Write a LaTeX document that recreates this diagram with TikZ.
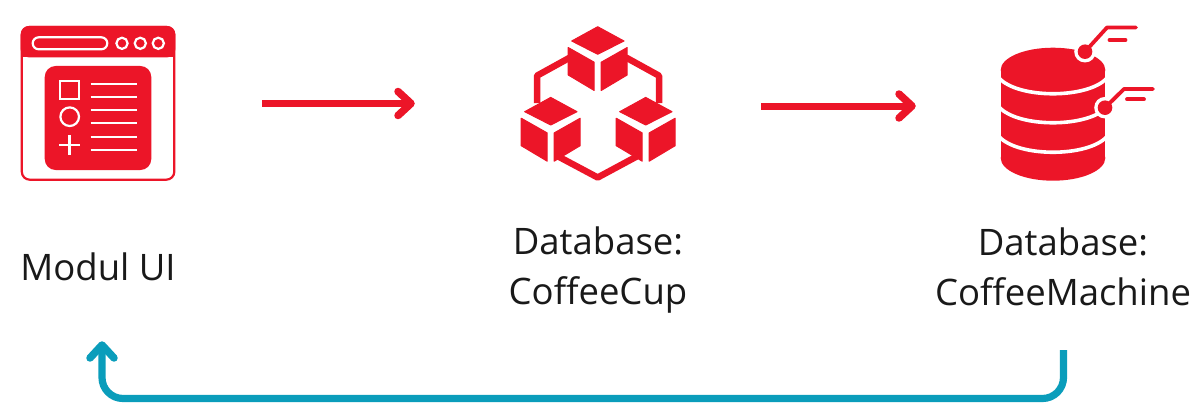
\documentclass[tikz,border=0pt]{standalone}
\usepackage{fontspec}
\setmainfont{Open Sans}
\definecolor{cred}{HTML}{EC1528}
\definecolor{cteal}{HTML}{0A9DBB}
\tikzset{
  x=1pt,y=-1pt,
  redflow/.style={draw=cred,line width=7pt},
  tealflow/.style={draw=cteal,line width=7.2pt,rounded corners=21pt},
  redhead/.style={draw=cred,line width=7.5pt,line cap=round,line join=round},
  tealhead/.style={draw=cteal,line width=7.5pt,line cap=round,line join=round},
  lbl/.style={font=\fontsize{36.5}{50}\selectfont,align=center,text=black!90,inner sep=0pt},
  iconbox/.style={inner sep=0pt,minimum size=155pt},
  wl/.style={draw=white,line width=2.2pt},
  link/.style={draw=cred,line width=6.5pt,line join=round},
  lead/.style={draw=cred,line width=3.8pt,line cap=round,line join=round},
  sep/.style={draw=white,line width=3.6pt},
  rf/.style={fill=cred,draw=cred,line width=1pt,line join=round},
}
\begin{document}
\begin{tikzpicture}
\useasboundingbox (0,0) rectangle (1192,420);
\node[iconbox] (ui) at (98,103) {};
\node[iconbox] (cup) at (598,103) {};
\node[iconbox] (db) at (1076,103) {};
\node[lbl] (uilabel) at (98,267) {Modul UI};
\node[lbl] (cuplabel) at (598,270) {Database:\\CoffeeCup};
\node[lbl] (dblabel) at (1063,266.5) {Database:\\CoffeeMachine};
% UI icon
\draw[cred,line width=2.2pt,rounded corners=8pt] (21.8,27) rectangle (174.3,179.7);
\fill[cred,rounded corners=8pt] (20.7,26) -- (175.3,26) -- (175.3,57.3) -- (20.7,57.3) -- cycle;
\fill[cred] (20.7,45) rectangle (175.3,57.3);
\draw[wl,rounded corners=6pt] (32.7,37.3) rectangle (107.3,49.3);
\foreach \c in {122,140.3,158.3}\draw[wl] (\c,43.3) circle (5.6pt);
\fill[cred,rounded corners=11pt] (44.7,66) rectangle (151.3,170);
\draw[wl] (60,81) rectangle (79.3,99.3);
\draw[wl] (69.7,116.7) circle (9.3pt);
\draw[wl] (59.3,145) -- (80,145) (69.5,135) -- (69.5,155);
\foreach \yy in {84,96.7,109.7,122.7,136.7,150}\draw[wl] (90.7,\yy) -- (136.7,\yy);
% cubes icon
\draw[link] (570,57.5) -- (537,75.7) -- (537,103);
\draw[link] (626,57.5) -- (659,75.7) -- (659,103);
\draw[link] (558.3,156.5) -- (597.7,177.5) -- (636.7,156.5);
\foreach \dx/\dy in {597.7/26,550.7/96.7,645.7/96.7}{
\begin{scope}[shift={(\dx,\dy)}]
\fill[rf] (0,0.7) -- (26.3,15) -- (0,28.3) -- (-26,15) -- cycle;
\fill[rf] (-29.5,21.5) -- (-3.5,36.2) -- (-3.5,64.5) -- (-29.5,49) -- cycle;
\fill[rf] (3.5,36.2) -- (29.5,21.5) -- (29.5,49) -- (3.5,64.5) -- cycle;
\end{scope}}
% database icon
\fill[cred] (1053,70) ellipse[x radius=52.3,y radius=22.3];
\fill[cred] (1000.7,72) rectangle (1105.3,158);
\fill[cred] (1053,158) ellipse[x radius=52.3,y radius=22.7];
\draw[sep] (999,78) .. controls (1018,99) and (1088,99) .. (1107,78);
\draw[sep] (999,107) .. controls (1018,128) and (1088,128) .. (1107,107);
\draw[sep] (999,136.5) .. controls (1018,157.5) and (1088,157.5) .. (1107,136.5);
\fill[white] (1085,51.7) circle (10.8pt);
\fill[white] (1105,107.7) circle (10.8pt);
\fill[cred] (1085,51.7) circle (7.3pt);
\fill[cred] (1105,107.7) circle (7.3pt);
\draw[lead] (1085,51.7) -- (1107,27.5) -- (1136,27.5);
\draw[lead] (1109.5,40) -- (1125.5,40);
\draw[lead] (1105,107.7) -- (1124,89) -- (1153,89);
\draw[lead] (1127,99.3) -- (1144,99.3);
% connectors
\coordinate (a1s) at (262,103.5); \coordinate (a1e) at (411,103.5);
\coordinate (a2s) at (761,106); \coordinate (a2e) at (912,106);
\coordinate (a3s) at (1063.5,350); \coordinate (a3e) at (102,345);
\draw[redflow] (a1s) -- (a1e);
\draw[redhead] (a1e) ++(-13,-12) -- ++(13,12) -- ++(-13,12);
\draw[redflow] (a2s) -- (a2e);
\draw[redhead] (a2e) ++(-13,-12) -- ++(13,12) -- ++(-13,12);
\draw[tealflow] (a3s) -- (1063.5,398.5) -- (102,398.5) -- (a3e);
\draw[tealhead] (a3e) ++(-12,13) -- ++(12,-13) -- ++(12,13);
\end{tikzpicture}
\end{document}
